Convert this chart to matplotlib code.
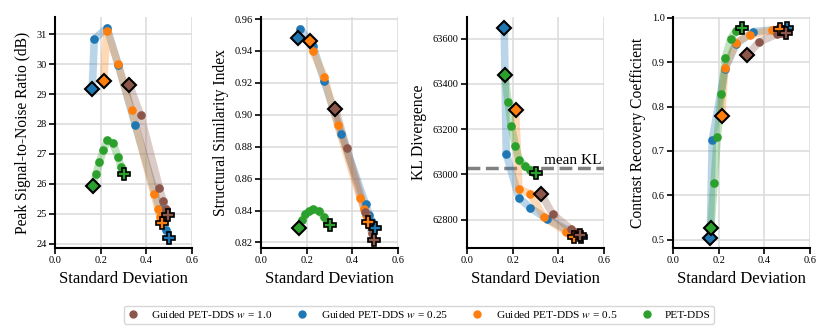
import matplotlib
matplotlib.use("Agg")
import matplotlib.pyplot as plt
from matplotlib.lines import Line2D

plt.rcParams['font.family'] = ['Liberation Serif', 'DejaVu Serif']
plt.rcParams['mathtext.fontset'] = 'stix'

# ---- data ----
series_names = [r"Guided PET-DDS $w$ = 1.0", r"Guided PET-DDS $w$ = 0.25",
                r"Guided PET-DDS $w$ = 0.5", "PET-DDS"]
series_colors = ["#8c564b", "#1f77b4", "#ff7f0e", "#2ca02c"]

# w = 1.0
std_w10 = [0.326, 0.375, 0.457, 0.473, 0.485, 0.494]
psnr_w10 = [29.30, 28.29, 25.87, 25.43, 25.15, 24.95]
ssim_w10 = [0.9036, 0.879, 0.839, 0.832, 0.826, 0.8217]
kl_w10 = [62913, 62824, 62757, 62745, 62738, 62732]
crc_w10 = [0.916, 0.945, 0.964, 0.965, 0.966, 0.967]

# w = 0.25
std_w025 = [0.163, 0.172, 0.228, 0.277, 0.352, 0.458, 0.475, 0.488, 0.498]
psnr_w025 = [29.16, 30.83, 31.21, 29.97, 27.96, 25.15, 24.75, 24.45, 24.20]
ssim_w025 = [0.9484, 0.9539, 0.943, 0.921, 0.888, 0.844, 0.837, 0.833, 0.829]
kl_w025 = [63647, 63090, 62896, 62853, 62802, 62745, 62735, 62728, 62722]
crc_w025 = [0.504, 0.725, 0.885, 0.942, 0.969, 0.974, 0.975, 0.976, 0.977]

# w = 0.5
std_w05 = [0.213, 0.227, 0.277, 0.336, 0.434, 0.451, 0.460, 0.468]
psnr_w05 = [29.44, 31.11, 29.99, 28.45, 25.65, 25.17, 24.90, 24.70]
ssim_w05 = [0.9461, 0.940, 0.9236, 0.8934, 0.8481, 0.841, 0.837, 0.8328]
kl_w05 = [63283, 62936, 62914, 62813, 62747, 62735, 62729, 62725]
crc_w05 = [0.778, 0.887, 0.944, 0.962, 0.972, 0.973, 0.974, 0.975]

# PET-DDS
std_dds = [0.165, 0.180, 0.194, 0.212, 0.229, 0.253, 0.276, 0.291, 0.302]
psnr_dds = [25.93, 26.32, 26.72, 27.12, 27.45, 27.37, 26.90, 26.55, 26.33]
ssim_dds = [0.829, 0.834, 0.8377, 0.8397, 0.8408, 0.8396, 0.836, 0.8328, 0.8307]
kl_dds = [63441, 63322, 63214, 63126, 63064, 63039, 63020, 63012, 63005]
crc_dds = [0.525, 0.628, 0.731, 0.829, 0.909, 0.953, 0.971, 0.975, 0.978]

mean_kl = 63027

metric_labels = ["Peak Signal-to-Noise Ratio (dB)", "Structural Similarity Index",
                 "KL Divergence", "Contrast Recovery Coefficient"]
x_ticks = [0.0, 0.2, 0.4, 0.6]
y_ticks = [
    [24, 25, 26, 27, 28, 29, 30, 31],
    [0.82, 0.84, 0.86, 0.88, 0.90, 0.92, 0.94, 0.96],
    [62800, 63000, 63200, 63400, 63600],
    [0.5, 0.6, 0.7, 0.8, 0.9, 1.0],
]
y_limits = [(23.86, 31.57), (0.8165, 0.9613), (62675, 63696), (0.481, 1.002)]

stds = [std_w10, std_w025, std_w05, std_dds]
metrics = [
    [psnr_w10, psnr_w025, psnr_w05, psnr_dds],
    [ssim_w10, ssim_w025, ssim_w05, ssim_dds],
    [kl_w10, kl_w025, kl_w05, kl_dds],
    [crc_w10, crc_w025, crc_w05, crc_dds],
]
draw_order = [1, 2, 0, 3]

fig = plt.figure(figsize=(8.3, 3.34), dpi=100)
lefts = [55, 261, 467, 673]
W, H = 830, 334
axes = []
for i, L in enumerate(lefts):
    ax = fig.add_axes([L / W, (H - 248) / H, 137 / W, 231 / H])
    axes.append(ax)
    for k in draw_order:
        xs = stds[k]
        ys = metrics[i][k]
        c = series_colors[k]
        ax.plot(xs, ys, color=c, lw=5.5, alpha=0.3, solid_capstyle='round', zorder=2)
        ax.plot(xs[1:-1], ys[1:-1], 'o', color=c, ms=5.2, zorder=3)
        ax.plot(xs[0], ys[0], 'D', color=c, ms=7.5, mec='black', mew=1.5, zorder=4)
        ax.plot(xs[-1], ys[-1], 'P', color=c, ms=8.5, mec='black', mew=1.2, zorder=4)
    ax.set_xlim(0, 0.6)
    ax.set_ylim(*y_limits[i])
    ax.set_xticks(x_ticks)
    ax.set_xticklabels([f"{t:.1f}" for t in x_ticks])
    ax.set_yticks(y_ticks[i])
    if i == 1:
        ax.set_yticklabels([f"{t:.2f}" for t in y_ticks[i]])
    elif i == 3:
        ax.set_yticklabels([f"{t:.1f}" for t in y_ticks[i]])
    ax.grid(True, color='#dddddd', lw=1.2, zorder=0)
    ax.set_axisbelow(True)
    for s in ['top', 'right']:
        ax.spines[s].set_visible(False)
    for s in ['left', 'bottom']:
        ax.spines[s].set_linewidth(1.5)
    ax.tick_params(axis='both', labelsize=7.5, length=4, width=1.2, direction='out', pad=2)
    ax.set_xlabel("Standard Deviation", fontsize=12, labelpad=4)
    ax.set_ylabel(metric_labels[i], fontsize=11.2, labelpad=4)

ax = axes[2]
ax.axhline(mean_kl, color='gray', ls='--', lw=2.5, zorder=1)
ax.text(0.59, mean_kl + 8, "mean KL", ha='right', va='bottom', fontsize=11)

handles = [Line2D([], [], ls='none', marker='o', color=c, ms=5) for c in series_colors]
fig.legend(handles, series_names, loc='center', bbox_to_anchor=(0.505, 0.058), ncol=4,
           fontsize=8.2, frameon=True, fancybox=True, edgecolor='#cccccc',
           columnspacing=2.1, handletextpad=1.1, borderpad=0.3, handlelength=1.0)

fig.savefig("out.png", dpi=100)
